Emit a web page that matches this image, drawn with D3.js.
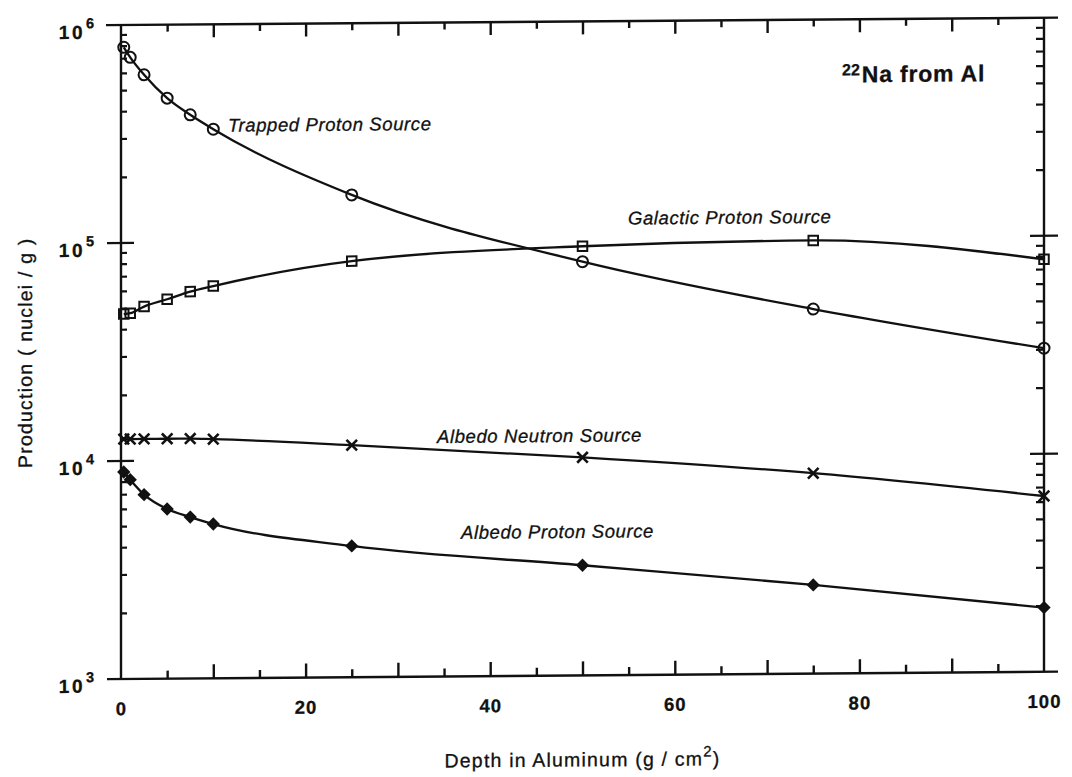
<!DOCTYPE html>
<html>
<head>
<meta charset="utf-8">
<script src="https://cdn.jsdelivr.net/npm/d3@7"></script>
<style>
  html, body { margin: 0; padding: 0; background: #fff; }
  svg { display: block; }
  text { font-family: "Liberation Sans", Arial, Helvetica, sans-serif; fill: #111; stroke: #111; stroke-width: 0.3px; }
</style>
</head>
<body>
<svg id="chart" width="1072" height="777"></svg>
<script>
// Depth in aluminum (g/cm^2) at which production was evaluated
const depth = [0.3, 1, 2.5, 5, 7.5, 10, 25, 50, 75, 100];

// 22Na production (nuclei / g) for each source
const trappedProton  = [7.9e5, 7.1e5, 5.9e5, 4.6e5, 3.85e5, 3.3e5, 1.63e5, 7.9e4, 4.7e4, 3.05e4];
const galacticProton = [4.72e4, 4.76e4, 5.1e4, 5.5e4, 5.95e4, 6.3e4, 8.1e4, 9.3e4, 9.7e4, 7.8e4];
const albedoNeutron  = [1.26e4, 1.26e4, 1.26e4, 1.26e4, 1.26e4, 1.25e4, 1.16e4, 1.0e4, 8.3e3, 6.4e3];
const albedoProton   = [8.9e3, 8.2e3, 7.0e3, 6.0e3, 5.5e3, 5.1e3, 4.0e3, 3.2e3, 2.55e3, 1.97e3];

// Axis tick labels
const xTickLabels = [0, 20, 40, 60, 80, 100];
const yDecades = [3, 4, 5, 6];

const W = 1072, H = 777;
const L = 121, R = 1044, T = 25, B = 679;
const ink = "#111";

const x = d3.scaleLinear().domain([0, 100]).range([L, R]);
const y = d3.scaleLog().domain([1e3, 1e6]).range([B, T]);

const svg = d3.select("#chart");
svg.append("rect").attr("width", W).attr("height", H).attr("fill", "#fff");

// whole figure sits on a very slight slant
const g = svg.append("g")
  .attr("transform", `translate(${L},0) skewY(-0.45) translate(${-L},0)`);

// ---- frame ----
const frame = g.append("g").attr("stroke", ink).attr("stroke-width", 2.4).attr("fill", "none");
frame.append("line").attr("x1", L).attr("x2", L).attr("y1", T).attr("y2", B);
frame.append("line").attr("x1", R).attr("x2", R).attr("y1", T).attr("y2", B);
frame.append("line").attr("x1", L - 15).attr("x2", R + 14).attr("y1", T).attr("y2", T);
frame.append("line").attr("x1", L - 14).attr("x2", R + 14).attr("y1", B).attr("y2", B);

// ---- y ticks (log decades + minor) ----
const yt = g.append("g").attr("stroke", ink).attr("stroke-width", 2.4);
[1e4, 1e5].forEach(v => {
  yt.append("line").attr("x1", L - 14).attr("x2", L + 13).attr("y1", y(v)).attr("y2", y(v));
  yt.append("line").attr("x1", R - 14).attr("x2", R + 14).attr("y1", y(v)).attr("y2", y(v));
});
[3, 4, 5].forEach(d => {
  d3.range(2, 10).forEach(k => {
    const v = k * Math.pow(10, d);
    yt.append("line").attr("x1", L).attr("x2", L + 6).attr("y1", y(v)).attr("y2", y(v)).attr("stroke-width", 2.2);
    yt.append("line").attr("x1", R - 8).attr("x2", R).attr("y1", y(v)).attr("y2", y(v)).attr("stroke-width", 2.2);
  });
});

// ---- x ticks, drawn inward on bottom and top ----
function tickAxis(axisGen, ty) {
  const a = g.append("g").attr("transform", `translate(0,${ty})`).call(axisGen);
  a.select(".domain").remove();
  a.selectAll(".tick line").attr("stroke", ink).attr("stroke-width", 2.4);
  return a;
}
const majors = d3.range(10, 100, 10);
const minors = d3.range(5, 100, 10);
tickAxis(d3.axisBottom(x).tickValues(majors).tickSize(-14).tickFormat(""), B);
tickAxis(d3.axisBottom(x).tickValues(minors).tickSize(-8).tickFormat(""), B);
tickAxis(d3.axisTop(x).tickValues(majors).tickSize(-13).tickFormat(""), T);
tickAxis(d3.axisTop(x).tickValues(minors).tickSize(-7).tickFormat(""), T);

// x tick labels
const xl = g.append("g").attr("transform", `translate(0,${B})`)
  .call(d3.axisBottom(x).tickValues(xTickLabels).tickSize(0).tickPadding(23).tickFormat(d3.format("d")));
xl.select(".domain").remove();
xl.selectAll("text")
  .attr("font-family", null)
  .style("font-family", '"Liberation Sans", Arial, Helvetica, sans-serif')
  .style("font-size", "18.5px").style("font-weight", "bold").style("letter-spacing", "1px")
  .attr("fill", ink);

// y tick labels: 10^n
yDecades.forEach(d => {
  const yy = y(Math.pow(10, d));
  g.append("text").attr("x", 85).attr("y", yy + 13.5).attr("text-anchor", "end")
    .style("font-size", "19px").style("font-weight", "bold").style("letter-spacing", "2.5px")
    .text("10");
  g.append("text").attr("x", 86).attr("y", yy + 3).attr("text-anchor", "start")
    .style("font-size", "14.5px").style("font-weight", "bold")
    .text(d);
});

// ---- series ----
const series = [
  { name: "trapped",  values: trappedProton,  marker: "circle"  },
  { name: "galactic", values: galacticProton, marker: "square"  },
  { name: "neutron",  values: albedoNeutron,  marker: "cross"   },
  { name: "albedo",   values: albedoProton,   marker: "diamond" }
];

const line = d3.line()
  .x(d => x(d[0]))
  .y(d => y(d[1]))
  .curve(d3.curveMonotoneX);

const symbols = {
  circle:  d3.symbol().type(d3.symbolCircle).size(Math.PI * 5.5 * 5.5),
  square:  d3.symbol().type(d3.symbolSquare).size(9.5 * 9.5),
  cross:   d3.symbol().type(d3.symbolX).size(75),
  diamond: d3.symbol().type(d3.symbolDiamond2).size(70)
};

series.forEach(s => {
  const pts = depth.map((dd, i) => [dd, s.values[i]]);
  g.append("path").datum(pts)
    .attr("d", line)
    .attr("fill", "none").attr("stroke", ink).attr("stroke-width", 2.3)
    .attr("stroke-linejoin", "round");
  const filled = s.marker === "diamond";
  g.append("g").selectAll("path").data(pts).join("path")
    .attr("transform", d => `translate(${x(d[0])},${y(d[1])})`)
    .attr("d", symbols[s.marker]())
    .attr("fill", filled ? ink : "none")
    .attr("stroke", ink)
    .attr("stroke-width", s.marker === "cross" ? 2.6 : 2);
});

// ---- series labels ----
const labelStyle = sel => sel.style("font-size", "18.5px").style("font-style", "italic").style("letter-spacing", "0.6px");
labelStyle(g.append("text").attr("x", 228).attr("y", 132.5).text("Trapped Proton Source"));
labelStyle(g.append("text").attr("x", 628).attr("y", 228.5).text("Galactic Proton Source"));
labelStyle(g.append("text").attr("x", 437).attr("y", 445.5).text("Albedo Neutron Source"));
labelStyle(g.append("text").attr("x", 461).attr("y", 541.5).text("Albedo Proton Source"));

// ---- panel title ----
const ttl = g.append("text").attr("x", 842).attr("y", 88).style("font-weight", "bold");
ttl.append("tspan").attr("y", 81).style("font-size", "16px").text("22");
ttl.append("tspan").attr("y", 88).attr("dx", 2).style("font-size", "23px").style("letter-spacing", "0.8px").text("Na from Al");

// ---- axis titles ----
const xt = g.append("text").attr("x", (L + R) / 2).attr("y", 770).attr("text-anchor", "middle")
  .style("font-size", "19.5px").style("letter-spacing", "1.2px");
xt.append("tspan").text("Depth in Aluminum (g / cm");
xt.append("tspan").attr("dy", -9).style("font-size", "15px").text("2");
xt.append("tspan").attr("dy", 9).text(")");

g.append("text").attr("transform", `translate(32,352) rotate(-90)`).attr("text-anchor", "middle")
  .style("font-size", "19.5px").style("letter-spacing", "1.2px")
  .text("Production ( nuclei / g )");
</script>
</body>
</html>
